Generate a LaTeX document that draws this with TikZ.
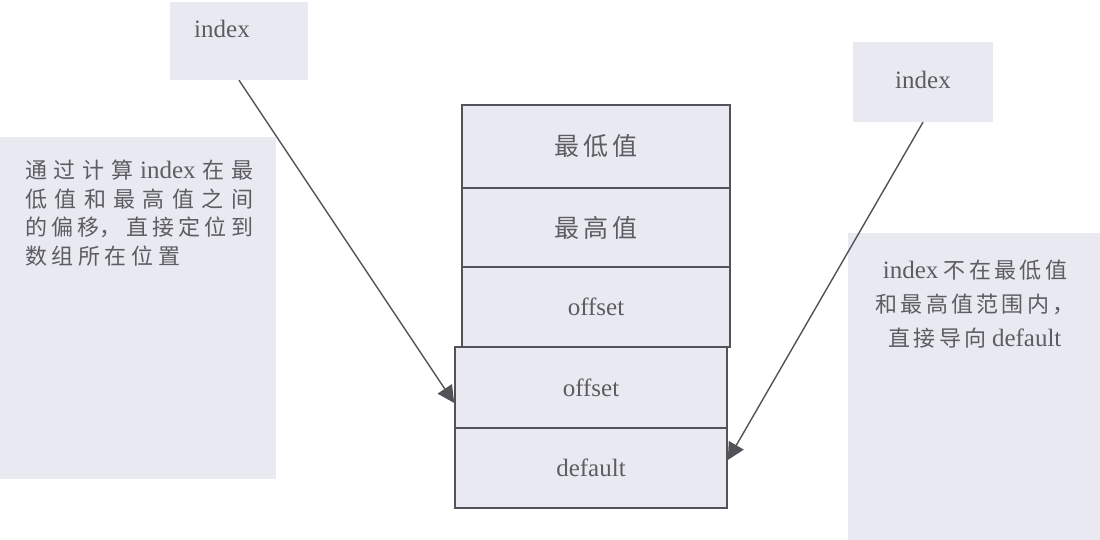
\documentclass[tikz,border=0pt]{standalone}
\usepackage{fontspec}
\setmainfont{Liberation Serif}
\newfontfamily\cjk[LetterSpace=15]{Noto Sans CJK SC}
\newfontfamily\cjkn{Noto Sans CJK SC}
\usetikzlibrary{arrows.meta,calc}
\definecolor{boxfill}{RGB}{233,234,241}
\definecolor{ink}{RGB}{92,92,98}
\definecolor{edge}{RGB}{82,82,88}
\newcommand\hf{\hfill}
\begin{document}
\begin{tikzpicture}[x=1pt,y=-1pt,
  cell/.style={draw=edge,line width=1.6pt,fill=boxfill,inner sep=0pt,text=ink,
    font=\fontsize{25}{30}\selectfont},
  panel/.style={fill=boxfill,draw=none,inner sep=0pt},
  lbl/.style={text=ink,inner sep=0pt,font=\fontsize{25}{30}\selectfont},
  conn/.style={draw=edge,line width=1.4pt,-{Triangle[width=17pt,length=17pt]}}
]
\useasboundingbox (0,0) rectangle (1100,540);
\fill[white] (0,0) rectangle (1100,540);

% panels
\node[panel,minimum width=138pt,minimum height=78pt] (idxL) at (239,41) {};
\node[panel,minimum width=140pt,minimum height=80pt] (idxR) at (923,82) {};
\node[panel,minimum width=276pt,minimum height=342pt] (noteL) at (138,308) {};
\node[panel,minimum width=252pt,minimum height=307pt] (noteR) at (974,386.5) {};

\node[lbl] (idxLt) at (222,29) {index};
\node[lbl] (idxRt) at (923,80) {index};

% left note
\node[lbl,anchor=north west,align=left,font=\fontsize{22}{28.5}\selectfont] (noteLt) at (25,160) {%
\makebox[228pt][s]{{\cjkn 通}\hf{\cjkn 过}\hf{\cjkn 计}\hf{\cjkn 算}\hf{\fontsize{25}{28.5}\selectfont index}\hf{\cjkn 在}\hf{\cjkn 最}}\\
\makebox[228pt][s]{{\cjkn 低}\hf{\cjkn 值}\hf{\cjkn 和}\hf{\cjkn 最}\hf{\cjkn 高}\hf{\cjkn 值}\hf{\cjkn 之}\hf{\cjkn 间}}\\
\makebox[228pt][s]{{\cjkn 的}\hf{\cjkn 偏}\hf{\cjkn 移，}\hf{\cjkn 直}\hf{\cjkn 接}\hf{\cjkn 定}\hf{\cjkn 位}\hf{\cjkn 到}}\\
\makebox[155pt][s]{{\cjkn 数}\hf{\cjkn 组}\hf{\cjkn 所}\hf{\cjkn 在}\hf{\cjkn 位}\hf{\cjkn 置}}};

% right note
\node[lbl,align=center,font=\fontsize{22}{34}\selectfont] (noteRt) at (975,304) {%
{\fontsize{25}{34}\selectfont index} {\cjk 不在最低值}\\
{\cjk 和最高值范围内，}\\
{\cjk 直接导向} {\fontsize{25}{34}\selectfont default}};

% stack
\node[cell,minimum width=268pt,minimum height=83pt] (lo) at (596,146.5) {\cjk 最低值};
\node[cell,minimum width=268pt,minimum height=79pt] (hi) at (596,227.5) {\cjk 最高值};
\node[cell,minimum width=268pt,minimum height=80pt] (off1) at (596,307) {offset};
\node[cell,minimum width=272pt,minimum height=81pt] (off2) at (591,387.5) {offset};
\node[cell,minimum width=272pt,minimum height=80pt] (dflt) at (591,468) {default};

% connectors
\coordinate (tipL) at ([yshift=-15.5pt]off2.west);
\coordinate (tipR) at ([yshift=8pt]dflt.east);
\draw[conn] (idxL.south) -- (tipL);
\draw[conn] (idxR.south) -- (tipR);
\end{tikzpicture}
\end{document}
